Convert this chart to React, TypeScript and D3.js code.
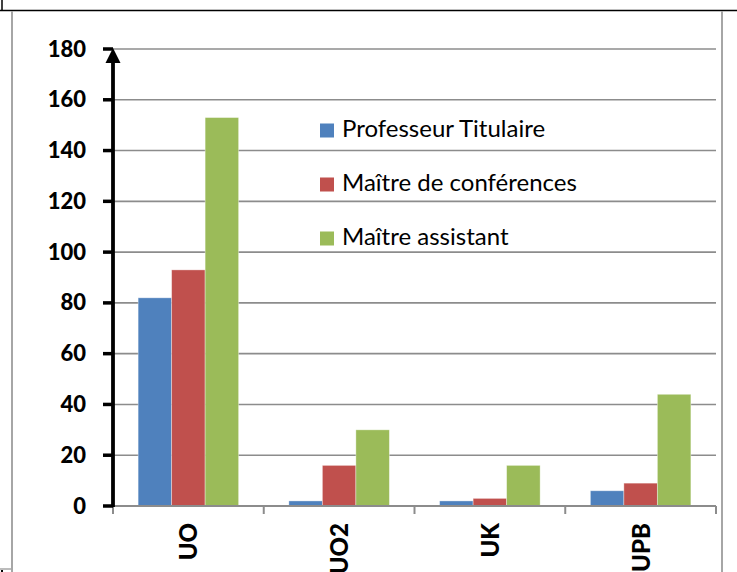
import React from "react";
import * as d3 from "d3";

const categories = ["UO", "UO2", "UK", "UPB"];
const seriesNames = ["Professeur Titulaire", "Maître de conférences", "Maître assistant"];
const professeurTitulaire = [82, 2, 2, 6];
const maitreConferences = [93, 16, 3, 9];
const maitreAssistant = [153, 30, 16, 44];
const seriesColors = ["#4F81BD", "#C0504D", "#9BBB59"];
const yTicks = [0, 20, 40, 60, 80, 100, 120, 140, 160, 180];

const W = 737;
const H = 572;
const left = 113;
const right = 716;
const top = 49;
const bottom = 506;

export default function App() {
  const seriesValues = [professeurTitulaire, maitreConferences, maitreAssistant];
  const y = d3.scaleLinear().domain([0, 180]).range([bottom, top]);
  const x0 = d3.scaleBand<string>().domain(categories).range([left, right]).paddingInner(0).paddingOuter(0);
  const x1 = d3
    .scaleBand<string>()
    .domain(seriesNames)
    .range([0, x0.bandwidth()])
    .paddingInner(0)
    .paddingOuter(0.75);
  const boundaries = [...categories.map((c) => x0(c) as number), right];
  const font = "Lato, 'Open Sans', sans-serif";

  return (
    <svg
      width={W}
      height={H}
      viewBox={`0 0 ${W} ${H}`}
      style={{ position: "absolute", left: 0, top: 0, display: "block", background: "#fff" }}
    >
      {/* frame */}
      <line x1={0} x2={W} y1={10.5} y2={10.5} stroke="#000" strokeWidth={1.6} />
      <line x1={2} x2={2} y1={0} y2={10} stroke="#000" strokeWidth={1.5} />
      <line x1={12} x2={12} y1={11} y2={H} stroke="#a6a6a6" strokeWidth={2} />
      <line x1={722} x2={722} y1={11} y2={H} stroke="#a6a6a6" strokeWidth={2} />
      <line x1={0} x2={12} y1={569} y2={569} stroke="#a6a6a6" strokeWidth={1.5} />
      <rect x={1} y={570} width={2} height={2} fill="#000" />

      {/* gridlines */}
      {yTicks
        .filter((t) => t > 0)
        .map((t) => (
          <line key={t} x1={left} x2={right} y1={y(t)} y2={y(t)} stroke="#8c8c8c" strokeWidth={1.6} />
        ))}

      {/* bars */}
      {categories.map((c, ci) =>
        seriesNames.map((s, si) => {
          const v = seriesValues[si][ci];
          const bx = (x0(c) as number) + (x1(s) as number);
          return (
            <rect
              key={c + s}
              x={bx}
              y={y(v)}
              width={x1.bandwidth()}
              height={y(0) - y(v)}
              fill={seriesColors[si]}
              stroke="#ffffff"
              strokeOpacity={0.45}
              strokeWidth={0.8}
            />
          );
        })
      )}

      {/* x axis */}
      <line x1={left - 2} x2={right} y1={bottom} y2={bottom} stroke="#8c8c8c" strokeWidth={2} />
      {boundaries.map((bx, i) => (
        <line key={i} x1={bx} x2={bx} y1={bottom} y2={bottom + 8} stroke="#8c8c8c" strokeWidth={2} />
      ))}
      {categories.map((c) => {
        const cx = (x0(c) as number) + x0.bandwidth() / 2 + 9;
        const ty = 523;
        return (
          <text
            key={c}
            x={0}
            y={0}
            transform={`translate(${cx},${ty}) rotate(-90)`}
            textAnchor="end"
            fontFamily={font}
            fontWeight={900}
            fontSize={24}
            fill="#000"
          >
            {c}
          </text>
        );
      })}

      {/* y axis */}
      {yTicks.map((t) => (
        <line key={t} x1={103} x2={113} y1={y(t)} y2={y(t)} stroke="#000" strokeWidth={3.5} />
      ))}
      <line x1={113} x2={113} y1={bottom + 1} y2={top + 10} stroke="#000" strokeWidth={3.8} />
      <path d={`M113,${top - 1} L120.5,${top + 14} L105.5,${top + 14} Z`} fill="#000" />
      {yTicks.map((t) => (
        <text
          key={t}
          x={86}
          y={y(t) + 7.5}
          textAnchor="end"
          fontFamily={font}
          fontWeight={900}
          fontSize={22}
          fill="#000"
        >
          {t}
        </text>
      ))}

      {/* legend */}
      {seriesNames.map((s, i) => {
        const by = 137 + i * 54;
        return (
          <g key={s}>
            <rect x={320} y={by - 13.5} width={14} height={14} fill={seriesColors[i]} />
            <text x={342} y={by} fontFamily={font} fontSize={24} fill="#000">
              {s}
            </text>
          </g>
        );
      })}
    </svg>
  );
}
